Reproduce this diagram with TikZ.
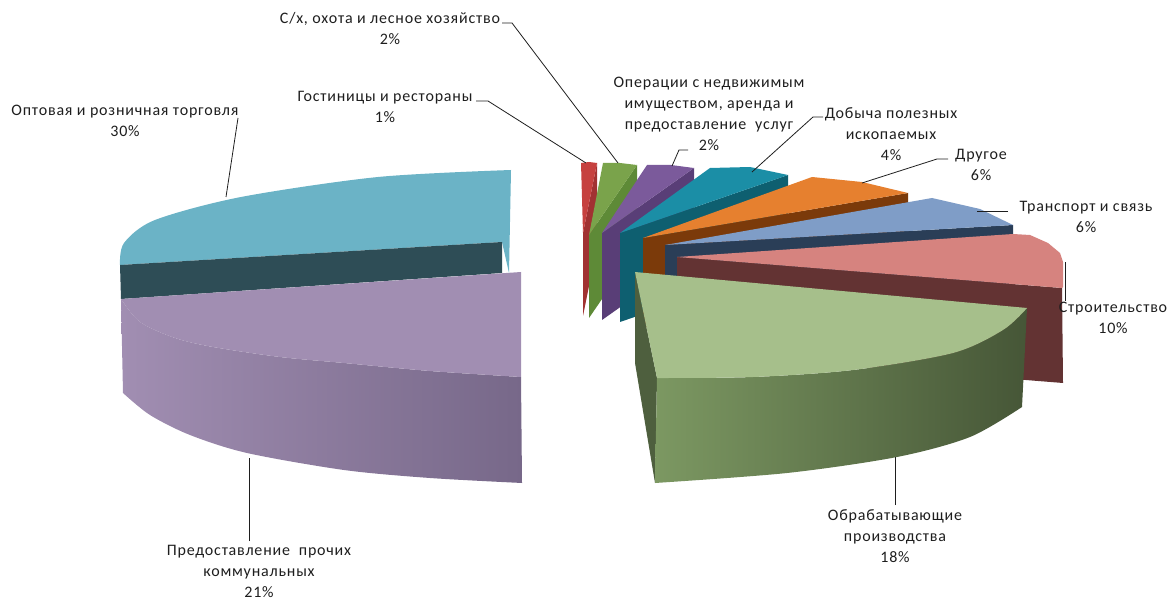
\documentclass[tikz,border=0pt]{standalone}
\usepackage{fontspec}
\setmainfont{Carlito}[LetterSpace=5.0]
\usetikzlibrary{positioning}

\definecolor{ink}{HTML}{1E1E1E}
\definecolor{tradetop}{HTML}{6BB3C6}
\definecolor{tradecut}{HTML}{2E4D56}
\definecolor{utiltop}{HTML}{A18EB2}
\definecolor{utildark}{HTML}{776889}
\definecolor{manuftop}{HTML}{A6BF8B}
\definecolor{manufcut}{HTML}{4E5F3E}
\definecolor{manuflight}{HTML}{7C9862}
\definecolor{manufdark}{HTML}{465637}
\definecolor{constrtop}{HTML}{D6837F}
\definecolor{constrcut}{HTML}{633333}
\definecolor{transptop}{HTML}{7F9DC7}
\definecolor{transpcut}{HTML}{2A3E57}
\definecolor{othertop}{HTML}{E6802F}
\definecolor{othercut}{HTML}{7B3A0A}
\definecolor{miningtop}{HTML}{1B8EA6}
\definecolor{miningcut}{HTML}{0E5F70}
\definecolor{realtytop}{HTML}{7B5A9B}
\definecolor{realtycut}{HTML}{593E77}
\definecolor{agritop}{HTML}{7AA34B}
\definecolor{agricut}{HTML}{5E8A37}
\definecolor{hoteltop}{HTML}{C6413F}
\definecolor{hotelcut}{HTML}{A13232}

\begin{document}
\begin{tikzpicture}[x=1pt, y=-1pt, font=\fontsize{16}{21}\selectfont]
	\tikzstyle{caption} = [align=center, inner sep=0pt, text=ink]
	\tikzstyle{leader} = [draw=ink, line width=0.8pt]

	\useasboundingbox (0,0) rectangle (1169,601);

	% left pair
	\fill[tradetop] plot[smooth] coordinates {(511,170) (378,177) (241,197) (155,220) (124,243) (120,265)}
		-- (502,242) -- (509,273) -- cycle;
	\fill[tradecut] (120,265) -- (502,242) -- (502,273) -- (121,299) -- cycle;
	\shade[left color=utiltop, right color=utildark]
		plot[smooth] coordinates {(121,299) (123,393)} -- plot[smooth] coordinates {(123,393) (150,415) (190,435) (247,453) (344,470) (430,478) (522,483)}
		-- (521,377) -- plot[smooth] coordinates {(521,377) (430,371) (344,363) (280,357) (213,347) (175,338) (140,322) (121,299)} -- cycle;
	\fill[utiltop] (121,299) -- (521,272) -- (521,377)
		-- plot[smooth] coordinates {(521,377) (430,371) (344,363) (280,357) (213,347) (175,338) (140,322) (121,299)} -- cycle;

	% small wedges, back to front
	\foreach \ax/\ay/\lx/\ly/\mx/\my/\rx/\ry/\h/\c in {
		583/233/581/163/589/162/597/163/83/hotel,
		589/235/603/163/620/163/637/165/83/agri,
		602/233/647/165/671/165/694/168/87/realty,
		620/233/710/168/750/167/788/175/89/mining,
		643/238/812/177/862/182/908/193/90/other,
		665/245/932/198/980/209/1013/225/90/transp}
	{
		\fill[\c cut] (\ax,\ay) -- (\rx,\ry) -- (\rx,\ry+\h) -- (\ax,\ay+\h) -- cycle;
		\fill[\c top] (\ax,\ay) -- (\lx,\ly) -- (\mx,\my) -- (\rx,\ry) -- cycle;
	}

	% construction
	\fill[constrcut] (677,257) -- (1062,288) -- (1063,383) -- (677,352) -- cycle;
	\fill[constrtop] (677,257) -- (1013,234) -- (1030,235) -- (1048,243) -- (1060,253) -- (1063,262)
		-- (1063,287) -- (1062,288) -- cycle;

	% manufacturing
	\fill[manufcut] (635,272) -- (657,378) -- (655,483) -- (635,363) -- cycle;
	\shade[left color=manuflight, right color=manufdark]
		plot[smooth] coordinates {(657,378) (753,377) (853,370) (953,353) (1003,330) (1027,308)}
		-- (1022,407) -- plot[smooth] coordinates {(1022,407) (970,437) (897,457) (787,473) (655,483)} -- cycle;
	\fill[manuftop] (635,272) -- (1027,308)
		-- plot[smooth] coordinates {(1027,308) (1003,330) (953,353) (853,370) (753,377) (657,378)} -- cycle;

	% labels
	\node[caption] (trade) at (125,121) {Оптовая и розничная торговля\\30\%};
	\node[caption] (hotel) at (385,107) {Гостиницы и рестораны\\1\%};
	\node[caption] (agri) at (390,29) {С/х, охота и лесное хозяйство\\2\%};
	\node[caption] (realty) at (709,114) {Операции с недвижимым\\имуществом, аренда и\\предоставление~ услуг\\2\%};
	\node[caption] (mining) at (891,134) {Добыча полезных\\ископаемых\\4\%};
	\node[caption] (other) at (981,165) {Другое\\6\%};
	\node[caption] (transp) at (1086,217) {Транспорт и связь\\6\%};
	\node[caption] (constr) at (1113,318) {Строительство\\10\%};
	\node[caption] (manuf) at (895,536) {Обрабатывающие\\производства\\18\%};
	\node[caption] (util) at (259,571) {Предоставление~ прочих\\коммунальных\\21\%};

	% leader lines
	\coordinate (trade-l) at (238,118);  \coordinate (trade-s) at (226,197);
	\coordinate (hotel-l) at (476,101);  \coordinate (hotel-s) at (586,163);
	\coordinate (agri-l) at (502,23);    \coordinate (agri-s) at (618,163);
	\coordinate (realty-l) at (688,150); \coordinate (realty-s) at (672,166);
	\coordinate (mining-l) at (823,117); \coordinate (mining-s) at (752,172);
	\coordinate (other-l) at (948,159);  \coordinate (other-s) at (862,183);
	\coordinate (transp-l) at (1008,211); \coordinate (transp-s) at (977,211);
	\coordinate (constr-l) at (1065,301); \coordinate (constr-s) at (1065,262);
	\coordinate (manuf-l) at (895,505);  \coordinate (manuf-s) at (895,457);
	\coordinate (util-l) at (249,541);   \coordinate (util-s) at (249,458);

	\draw[leader] (trade-l) -- (trade-s);
	\draw[leader] (hotel-l) -- ++(12,0) -- (hotel-s);
	\draw[leader] (agri-l) -- ++(10,0) -- (agri-s);
	\draw[leader] (realty-l) -- ++(-9,0) -- (realty-s);
	\draw[leader] (mining-l) -- ++(-10,0) -- (mining-s);
	\draw[leader] (other-l) -- ++(-11,0) -- (other-s);
	\draw[leader] (transp-l) -- (transp-s);
	\draw[leader] (constr-l) -- (constr-s);
	\draw[leader] (manuf-l) -- (manuf-s);
	\draw[leader] (util-l) -- (util-s);
\end{tikzpicture}
\end{document}
